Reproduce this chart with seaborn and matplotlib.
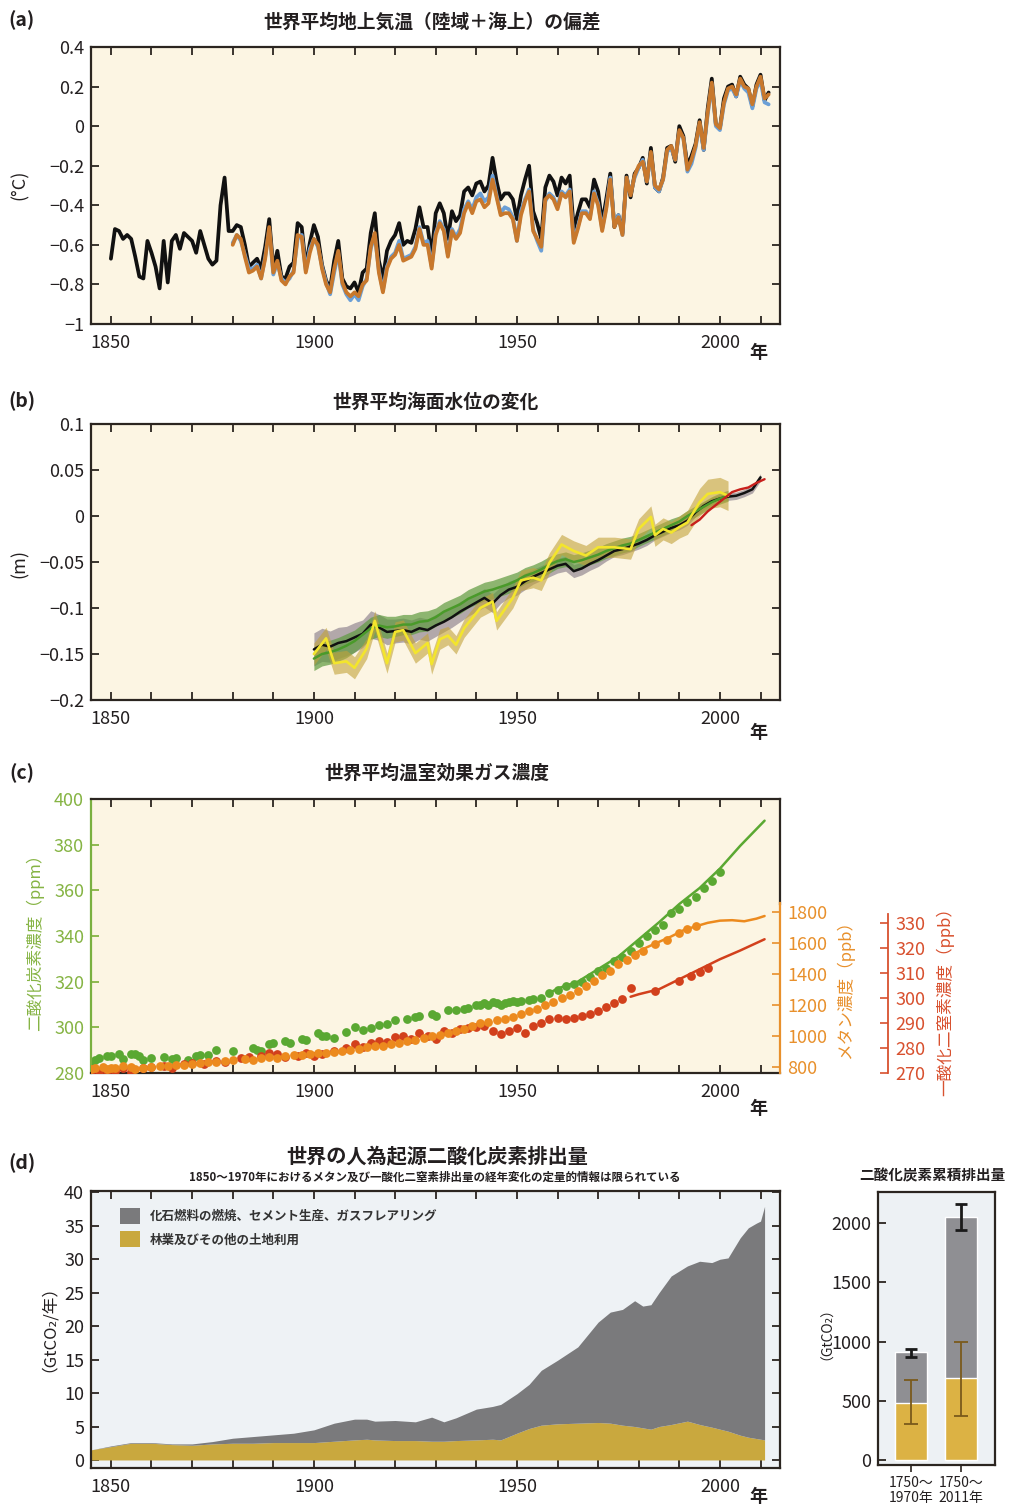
import numpy as np
import matplotlib
matplotlib.use("Agg")
import matplotlib.pyplot as plt
import seaborn as sns
from matplotlib.ticker import MultipleLocator, FuncFormatter, FixedLocator
from matplotlib.patches import Patch

sns.set_theme(style="ticks")
plt.rcParams["font.family"] = ["Noto Sans CJK JP", "DejaVu Sans"]
plt.rcParams["axes.unicode_minus"] = True

# ---------------- (a) global mean surface temperature anomaly ----------------
temp_black_years = list(range(1850, 2013))
temp_black = [
    -0.67, -0.52, -0.53, -0.57, -0.55, -0.57, -0.66, -0.76, -0.77, -0.58,
    -0.64, -0.71, -0.82, -0.58, -0.79, -0.58, -0.55, -0.62, -0.54, -0.56,
    -0.58, -0.64, -0.53, -0.60, -0.67, -0.70, -0.68, -0.40, -0.26, -0.53,
    -0.53, -0.50, -0.51, -0.60, -0.71, -0.69, -0.67, -0.72, -0.61, -0.47,
    -0.72, -0.63, -0.76, -0.77, -0.71, -0.69, -0.49, -0.51, -0.71, -0.59,
    -0.50, -0.56, -0.70, -0.78, -0.82, -0.68, -0.58, -0.77, -0.81, -0.82,
    -0.79, -0.84, -0.74, -0.72, -0.54, -0.44, -0.68, -0.77, -0.63, -0.58,
    -0.55, -0.49, -0.60, -0.58, -0.59, -0.52, -0.41, -0.51, -0.51, -0.65,
    -0.44, -0.39, -0.44, -0.57, -0.43, -0.48, -0.45, -0.33, -0.31, -0.35,
    -0.29, -0.28, -0.33, -0.30, -0.16, -0.28, -0.37, -0.34, -0.34, -0.37,
    -0.47, -0.35, -0.27, -0.20, -0.43, -0.49, -0.57, -0.31, -0.25, -0.28,
    -0.35, -0.26, -0.29, -0.25, -0.52, -0.44, -0.37, -0.37, -0.41, -0.27,
    -0.33, -0.49, -0.37, -0.24, -0.51, -0.45, -0.54, -0.25, -0.36, -0.24,
    -0.21, -0.16, -0.29, -0.11, -0.31, -0.33, -0.26, -0.11, -0.10, -0.18,
    0.00, -0.05, -0.20, -0.15, -0.09, 0.03, -0.12, 0.09, 0.24, 0.01,
    -0.01, 0.14, 0.20, 0.21, 0.15, 0.25, 0.21, 0.19, 0.10, 0.21,
    0.26, 0.13, 0.17]
temp_other_years = list(range(1880, 2013))
temp_orange = [
    -0.60, -0.55, -0.57, -0.66, -0.74, -0.73, -0.71, -0.77, -0.67, -0.51,
    -0.74, -0.68, -0.78, -0.80, -0.76, -0.74, -0.55, -0.56, -0.74, -0.64,
    -0.57, -0.60, -0.72, -0.80, -0.84, -0.72, -0.63, -0.79, -0.84, -0.86,
    -0.84, -0.86, -0.80, -0.78, -0.61, -0.54, -0.74, -0.84, -0.72, -0.67,
    -0.65, -0.60, -0.68, -0.67, -0.66, -0.62, -0.52, -0.60, -0.60, -0.72,
    -0.55, -0.49, -0.53, -0.66, -0.53, -0.57, -0.54, -0.44, -0.39, -0.44,
    -0.38, -0.37, -0.41, -0.39, -0.27, -0.36, -0.45, -0.44, -0.44, -0.47,
    -0.58, -0.45, -0.38, -0.33, -0.53, -0.57, -0.61, -0.37, -0.35, -0.37,
    -0.42, -0.34, -0.36, -0.33, -0.59, -0.52, -0.44, -0.44, -0.47, -0.34,
    -0.40, -0.53, -0.42, -0.27, -0.51, -0.46, -0.55, -0.26, -0.35, -0.25,
    -0.20, -0.18, -0.28, -0.13, -0.30, -0.32, -0.27, -0.12, -0.10, -0.17,
    -0.02, -0.06, -0.22, -0.17, -0.10, 0.02, -0.11, 0.07, 0.22, 0.01,
    -0.01, 0.12, 0.19, 0.20, 0.16, 0.24, 0.20, 0.19, 0.11, 0.20,
    0.25, 0.14, 0.16]
temp_blue = [
    -0.59, -0.55, -0.58, -0.65, -0.72, -0.72, -0.70, -0.77, -0.66, -0.52,
    -0.75, -0.69, -0.77, -0.79, -0.77, -0.73, -0.57, -0.55, -0.73, -0.62,
    -0.57, -0.61, -0.71, -0.79, -0.85, -0.74, -0.64, -0.80, -0.85, -0.88,
    -0.85, -0.88, -0.81, -0.77, -0.62, -0.55, -0.73, -0.83, -0.71, -0.66,
    -0.64, -0.58, -0.67, -0.66, -0.65, -0.61, -0.51, -0.59, -0.58, -0.71,
    -0.54, -0.48, -0.52, -0.65, -0.52, -0.56, -0.52, -0.42, -0.38, -0.42,
    -0.36, -0.34, -0.38, -0.36, -0.25, -0.35, -0.44, -0.41, -0.42, -0.46,
    -0.58, -0.43, -0.37, -0.32, -0.52, -0.58, -0.63, -0.38, -0.34, -0.36,
    -0.41, -0.33, -0.35, -0.32, -0.58, -0.51, -0.43, -0.43, -0.46, -0.33,
    -0.39, -0.52, -0.41, -0.26, -0.50, -0.45, -0.55, -0.26, -0.34, -0.26,
    -0.21, -0.17, -0.28, -0.14, -0.31, -0.33, -0.27, -0.13, -0.11, -0.17,
    -0.03, -0.06, -0.23, -0.19, -0.11, 0.01, -0.12, 0.06, 0.21, 0.00,
    -0.02, 0.11, 0.18, 0.19, 0.15, 0.23, 0.19, 0.17, 0.09, 0.19,
    0.23, 0.12, 0.11]

# ---------------- (b) global mean sea level change ----------------
sl_black_years = list(range(1900, 2011, 2))
sl_black = [
    -0.145, -0.140, -0.142, -0.138, -0.136, -0.132, -0.128, -0.118, -0.121, -0.126,
    -0.125, -0.124, -0.126, -0.122, -0.124, -0.119, -0.115, -0.110, -0.104, -0.099,
    -0.094, -0.089, -0.095, -0.086, -0.080, -0.077, -0.071, -0.066, -0.062, -0.058,
    -0.054, -0.052, -0.060, -0.057, -0.052, -0.048, -0.043, -0.038, -0.036, -0.033,
    -0.030, -0.026, -0.021, -0.017, -0.013, -0.010, -0.005, 0.004, 0.011, 0.016,
    0.019, 0.021, 0.022, 0.025, 0.029, 0.042]
sl_black_unc = [
    0.018, 0.018, 0.017, 0.017, 0.016, 0.016, 0.015, 0.015, 0.014, 0.014,
    0.013, 0.013, 0.013, 0.012, 0.012, 0.012, 0.011, 0.011, 0.011, 0.010,
    0.010, 0.010, 0.010, 0.009, 0.009, 0.009, 0.009, 0.008, 0.008, 0.008,
    0.008, 0.008, 0.007, 0.007, 0.007, 0.007, 0.006, 0.006, 0.006, 0.006,
    0.006, 0.006, 0.005, 0.005, 0.005, 0.005, 0.005, 0.005, 0.004, 0.004,
    0.004, 0.004, 0.004, 0.004, 0.004, 0.004]
sl_green_years = list(range(1900, 2003, 2))
sl_green = [
    -0.155, -0.150, -0.148, -0.145, -0.141, -0.136, -0.129, -0.122, -0.119, -0.121,
    -0.120, -0.118, -0.118, -0.115, -0.114, -0.110, -0.104, -0.100, -0.096, -0.090,
    -0.086, -0.082, -0.080, -0.077, -0.074, -0.070, -0.065, -0.062, -0.058, -0.053,
    -0.049, -0.047, -0.050, -0.048, -0.045, -0.042, -0.038, -0.035, -0.032, -0.030,
    -0.026, -0.022, -0.018, -0.014, -0.010, -0.006, 0.000, 0.005, 0.010, 0.015,
    0.019, 0.022]
sl_green_unc = [
    0.013, 0.013, 0.013, 0.013, 0.013, 0.012, 0.012, 0.012, 0.012, 0.012,
    0.011, 0.011, 0.011, 0.011, 0.011, 0.010, 0.010, 0.010, 0.010, 0.010,
    0.010, 0.010, 0.010, 0.010, 0.010, 0.009, 0.009, 0.009, 0.009, 0.009,
    0.008, 0.008, 0.008, 0.008, 0.008, 0.008, 0.008, 0.008, 0.008, 0.008,
    0.007, 0.007, 0.007, 0.007, 0.007, 0.006, 0.006, 0.006, 0.006, 0.006,
    0.006, 0.006]
sl_yellow_years = [1900, 1903, 1905, 1908, 1910, 1913, 1915, 1918, 1920, 1922,
                   1925, 1928, 1929, 1931, 1933, 1935, 1937, 1941, 1944, 1945,
                   1949, 1951, 1954, 1956, 1958, 1961, 1964, 1967, 1970, 1974,
                   1978, 1980, 1983, 1984, 1986, 1988, 1990, 1992, 1995, 1997,
                   2000, 2002]
sl_yellow = [-0.150, -0.133, -0.160, -0.158, -0.165, -0.144, -0.114, -0.160, -0.126, -0.124,
             -0.149, -0.138, -0.161, -0.134, -0.130, -0.140, -0.122, -0.100, -0.093, -0.114,
             -0.089, -0.070, -0.067, -0.070, -0.051, -0.031, -0.038, -0.043, -0.034, -0.034,
             -0.036, -0.014, -0.001, -0.021, -0.014, -0.018, -0.012, -0.007, 0.015, 0.024,
             0.026, 0.022]
sl_yellow_unc = [0.012, 0.012, 0.012, 0.012, 0.012, 0.011, 0.011, 0.011, 0.011, 0.011,
                 0.011, 0.011, 0.011, 0.011, 0.010, 0.010, 0.010, 0.010, 0.010, 0.010,
                 0.011, 0.011, 0.011, 0.011, 0.011, 0.011, 0.011, 0.011, 0.011, 0.011,
                 0.011, 0.011, 0.012, 0.012, 0.012, 0.012, 0.012, 0.013, 0.015, 0.016,
                 0.016, 0.016]
sl_red_years = [1993, 1995, 1997, 1999, 2001, 2003, 2005, 2007, 2009, 2011]
sl_red = [-0.010, -0.004, 0.005, 0.012, 0.019, 0.026, 0.029, 0.031, 0.036, 0.040]

# ---------------- (c) greenhouse gas concentrations ----------------
co2_dot_years = [1845, 1846, 1847, 1849, 1850, 1852, 1853, 1855, 1856, 1857,
                 1858, 1860, 1863, 1865, 1866, 1869, 1871, 1872, 1874, 1876,
                 1880, 1885, 1886, 1887, 1889, 1890, 1893, 1894, 1897, 1898,
                 1901, 1902, 1903, 1905, 1908, 1910, 1912, 1914, 1916, 1918,
                 1920, 1923, 1925, 1926, 1929, 1930, 1933, 1935, 1937, 1938,
                 1940, 1941, 1942, 1943, 1944, 1945, 1946, 1947, 1948, 1949,
                 1950, 1951, 1953, 1954, 1956, 1958, 1960, 1962, 1964, 1966,
                 1968, 1970, 1972, 1974, 1976, 1978, 1980, 1982, 1984, 1986,
                 1988, 1990, 1992, 1994, 1996, 1998, 2000]
co2_dot_vals = [284.5, 285.5, 286.5, 287.5, 287.5, 288.5, 286.0, 288.5, 288.5, 287.5,
                285.5, 286.5, 287.0, 286.0, 286.5, 285.5, 287.5, 288.0, 288.0, 290.0,
                289.5, 291.0, 290.0, 289.5, 292.5, 293.0, 294.0, 293.0, 295.0, 294.5,
                297.5, 296.0, 296.0, 295.5, 298.0, 300.0, 299.0, 299.5, 301.0, 301.5,
                303.0, 303.5, 304.5, 305.0, 306.0, 305.0, 307.5, 307.5, 308.0, 308.5,
                310.0, 310.0, 310.5, 310.0, 311.0, 310.5, 310.0, 310.5, 311.0, 311.5,
                311.0, 311.5, 312.0, 312.5, 313.0, 315.0, 316.5, 318.0, 319.0, 320.0,
                322.0, 324.5, 326.0, 329.0, 331.0, 333.5, 337.0, 340.0, 342.5, 345.0,
                350.0, 352.0, 355.0, 357.0, 361.0, 364.0, 368.0]
co2_line_years = [1958, 1960, 1965, 1970, 1975, 1980, 1985, 1990, 1995, 2000, 2005, 2011]
co2_line_vals = [315, 317, 320, 325.5, 331, 338.5, 346, 354, 361, 369.5, 379.5, 390.5]

ch4_dot_years = [1845, 1846, 1848, 1849, 1850, 1851, 1853, 1855, 1856, 1858,
                 1860, 1862, 1864, 1866, 1868, 1870, 1872, 1874, 1876, 1878,
                 1880, 1883, 1885, 1887, 1889, 1891, 1893, 1895, 1897, 1899,
                 1901, 1903, 1905, 1907, 1909, 1911, 1913, 1915, 1917, 1919,
                 1921, 1923, 1925, 1927, 1929, 1931, 1933, 1935, 1937, 1939,
                 1941, 1943, 1945, 1947, 1949, 1951, 1953, 1955, 1957, 1959,
                 1961, 1963, 1965, 1967, 1969, 1971, 1973, 1975, 1977, 1979,
                 1981, 1984, 1987, 1990, 1992, 1994]
ch4_dot_vals = [785, 792, 796, 784, 790, 794, 802, 796, 788, 790,
                800, 806, 804, 812, 808, 818, 822, 828, 832, 838,
                845, 850, 846, 856, 860, 858, 868, 872, 876, 880,
                885, 890, 892, 900, 910, 915, 925, 930, 936, 945,
                955, 965, 975, 985, 995, 1005, 1018, 1030, 1045, 1060,
                1080, 1090, 1100, 1110, 1120, 1140, 1160, 1175, 1195, 1215,
                1240, 1265, 1290, 1320, 1350, 1390, 1420, 1460, 1490, 1520,
                1545, 1590, 1620, 1660, 1690, 1705]
ch4_line_years = [1979, 1982, 1985, 1988, 1991, 1994, 1997, 2000, 2003, 2006, 2009, 2011]
ch4_line_vals = [1530, 1570, 1605, 1640, 1680, 1705, 1728, 1742, 1745, 1738, 1755, 1772]

n2o_dot_years = [1845, 1847, 1849, 1851, 1853, 1855, 1858, 1860, 1863, 1865,
                 1868, 1870, 1873, 1876, 1878, 1882, 1884, 1887, 1889, 1891,
                 1893, 1896, 1898, 1900, 1902, 1905, 1908, 1910, 1912, 1914,
                 1916, 1918, 1920, 1922, 1924, 1926, 1928, 1930, 1932, 1934,
                 1936, 1938, 1940, 1942, 1944, 1946, 1948, 1950, 1952, 1954,
                 1956, 1958, 1960, 1962, 1964, 1966, 1968, 1970, 1972, 1974,
                 1976, 1978, 1984, 1990, 1993, 1995, 1997]
n2o_dot_vals = [270.5, 271.0, 270.5, 271.0, 272.0, 270.5, 272.0, 272.5, 273.0, 272.0,
                273.5, 274.0, 273.5, 275.0, 274.5, 276.0, 276.5, 277.0, 278.0, 277.5,
                276.5, 277.0, 278.0, 277.0, 277.5, 279.0, 280.0, 281.5, 280.5, 282.0,
                283.0, 282.5, 284.5, 285.0, 283.5, 286.0, 285.0, 283.5, 287.0, 286.0,
                287.5, 288.0, 288.5, 289.0, 287.0, 285.5, 287.0, 288.0, 286.0, 289.0,
                290.0, 291.5, 292.0, 291.5, 292.0, 293.0, 293.5, 295.0, 296.5, 298.0,
                299.5, 304.0, 303.0, 307.0, 309.0, 310.5, 312.0]
n2o_line_years = [1978, 1980, 1985, 1990, 1995, 2000, 2005, 2011]
n2o_line_vals = [300.5, 301.5, 303.5, 307.5, 311.5, 315.5, 319.0, 323.5]

# ---------------- (d) anthropogenic CO2 emissions ----------------
em_years = [1845, 1850, 1855, 1860, 1865, 1870, 1875, 1880, 1885, 1890,
            1895, 1900, 1905, 1910, 1913, 1915, 1920, 1925, 1929, 1932,
            1935, 1940, 1944, 1946, 1950, 1953, 1956, 1960, 1965, 1970,
            1973, 1976, 1979, 1981, 1983, 1985, 1988, 1992, 1995, 1998,
            2000, 2002, 2005, 2007, 2009, 2010, 2011]
em_land = [1.5, 2.0, 2.5, 2.5, 2.3, 2.2, 2.4, 2.5, 2.5, 2.6,
           2.6, 2.6, 2.8, 3.0, 3.1, 3.0, 2.9, 2.9, 2.8, 2.8,
           2.9, 3.0, 3.1, 3.0, 4.0, 4.7, 5.2, 5.4, 5.5, 5.6,
           5.5, 5.2, 5.0, 4.8, 4.6, 5.0, 5.3, 5.8, 5.3, 4.9,
           4.6, 4.3, 3.7, 3.4, 3.2, 3.1, 3.0]
em_fossil = [0.0, 0.1, 0.1, 0.1, 0.1, 0.2, 0.35, 0.75, 1.0, 1.15,
             1.4, 1.9, 2.7, 3.1, 3.0, 2.8, 3.0, 2.8, 3.6, 2.9,
             3.4, 4.6, 4.9, 5.3, 5.9, 6.6, 8.2, 9.5, 11.4, 15.0,
             16.6, 17.3, 18.8, 18.2, 18.6, 20.0, 22.2, 23.2, 24.4, 24.6,
             25.4, 25.9, 29.5, 31.3, 32.2, 32.6, 34.9]

cum_labels = ["1750～\n1970年", "1750～\n2011年"]
cum_total = [910, 2055]
cum_total_lo = [872, 1941]
cum_total_hi = [942, 2166]
cum_land = [480, 690]
cum_land_lo = [301, 371]
cum_land_hi = [675, 993]

# ---------------- styling ----------------
W, H = 1012, 1510
SPINE = "#2b2520"
TXT = "#231f20"
CREAM = "#fcf5e3"
BLUEBG = "#eef2f5"
GRAY = "#7a7a7c"
GOLD = "#c9a83e"
GREEN_TXT = "#86b444"
CO2_C = "#5aa832"
CH4_C = "#ec8a1e"
N2O_C = "#d2401c"


def box(l, t, r, b):
    return [l / W, 1 - b / H, (r - l) / W, (b - t) / H]


def ftxt(x, y, s, **kw):
    kw.setdefault("ha", "center")
    kw.setdefault("va", "center")
    kw.setdefault("color", TXT)
    fig.text(x / W, 1 - y / H, s, **kw)


def numfmt(v, p):
    return ("%g" % round(v, 6)).replace("-", "\u2212")


def style_time(ax, face, right_ticks=True):
    ax.set_facecolor(face)
    ax.set_xlim(1845.1, 2014.8)
    ax.xaxis.set_major_locator(MultipleLocator(50))
    ax.xaxis.set_minor_locator(MultipleLocator(10))
    ax.tick_params(axis="x", which="both", direction="in", top=True, bottom=True,
                   length=6, width=1.3, color=SPINE, labelsize=13, pad=7, labelcolor=TXT)
    ax.tick_params(axis="y", which="both", direction="in", left=True, right=right_ticks,
                   length=6, width=1.3, color=SPINE, labelsize=13, pad=5, labelcolor=TXT)
    ax.yaxis.set_major_formatter(FuncFormatter(numfmt))
    for s in ax.spines.values():
        s.set_color(SPINE)
        s.set_linewidth(1.6)
    ax.set_xlabel("")
    ax.set_ylabel("")
    ax.grid(False)


fig = plt.figure(figsize=(W / 100, H / 100), dpi=100, facecolor="white")

# ---- (a)
ax_a = fig.add_axes(box(91, 47, 780, 324))
sns.lineplot(x=temp_black_years, y=temp_black, ax=ax_a, color="#111111", linewidth=2.7)
sns.lineplot(x=temp_other_years, y=temp_blue, ax=ax_a, color="#6b9fd6", linewidth=2.7)
sns.lineplot(x=temp_other_years, y=temp_orange, ax=ax_a, color="#c8782c", linewidth=2.7)
style_time(ax_a, CREAM)
ax_a.set_ylim(-1.0, 0.4)
ax_a.yaxis.set_major_locator(MultipleLocator(0.2))

# ---- (b)
ax_b = fig.add_axes(box(91, 424, 780, 700))
bk = np.array(sl_black); bku = np.array(sl_black_unc)
gr = np.array(sl_green); gru = np.array(sl_green_unc)
ye = np.array(sl_yellow); yeu = np.array(sl_yellow_unc)
ax_b.fill_between(sl_black_years, bk - bku, bk + bku, color="#9a8f98", alpha=0.75, linewidth=0)
ax_b.fill_between(sl_green_years, gr - gru, gr + gru, color="#5e9a40", alpha=0.7, linewidth=0)
ax_b.fill_between(sl_yellow_years, ye - yeu, ye + yeu, color="#c2a23a", alpha=0.6, linewidth=0)
sns.lineplot(x=sl_black_years, y=sl_black, ax=ax_b, color="#111111", linewidth=1.8)
sns.lineplot(x=sl_green_years, y=sl_green, ax=ax_b, color="#4a9a2a", linewidth=1.8)
sns.lineplot(x=sl_yellow_years, y=sl_yellow, ax=ax_b, color="#f3e52c", linewidth=1.9)
sns.lineplot(x=sl_red_years, y=sl_red, ax=ax_b, color="#c8201c", linewidth=1.7)
style_time(ax_b, CREAM)
ax_b.set_ylim(-0.2, 0.1)
ax_b.yaxis.set_major_locator(MultipleLocator(0.05))

# ---- (c)
ax_c = fig.add_axes(box(91, 799, 780, 1073))
sns.scatterplot(x=co2_dot_years, y=co2_dot_vals, ax=ax_c, color=CO2_C, s=40, linewidth=0)
sns.lineplot(x=co2_line_years, y=co2_line_vals, ax=ax_c, color=CO2_C, linewidth=1.8)
style_time(ax_c, CREAM, right_ticks=False)
ax_c.set_ylim(280, 400)
ax_c.yaxis.set_major_locator(MultipleLocator(20))
ax_c.tick_params(axis="y", colors=GREEN_TXT, labelcolor=GREEN_TXT)
ax_c.spines["left"].set_color("#7ab040")
ax_c.spines["right"].set_bounds(354, 400)

ax_n2o = ax_c.twinx()
sns.scatterplot(x=n2o_dot_years, y=n2o_dot_vals, ax=ax_n2o, color=N2O_C, s=40, linewidth=0)
sns.lineplot(x=n2o_line_years, y=n2o_line_vals, ax=ax_n2o, color=N2O_C, linewidth=1.8)
ax_n2o.set_ylim(270, 379.6)
ax_n2o.set_ylabel("")
for k in ["left", "top", "bottom"]:
    ax_n2o.spines[k].set_visible(False)
ax_n2o.spines["right"].set_position(("outward", 78))
ax_n2o.spines["right"].set_bounds(270, 333.5)
ax_n2o.spines["right"].set_color("#d8502e")
ax_n2o.spines["right"].set_linewidth(1.3)
ax_n2o.yaxis.set_major_locator(FixedLocator([270, 280, 290, 300, 310, 320, 330]))
ax_n2o.tick_params(axis="y", direction="in", length=6, width=1.2, color="#d8502e",
                   labelcolor="#d8502e", labelsize=13, pad=5)
ax_n2o.grid(False)

ax_ch4 = ax_c.twinx()
sns.scatterplot(x=ch4_dot_years, y=ch4_dot_vals, ax=ax_ch4, color=CH4_C, s=40, linewidth=0)
sns.lineplot(x=ch4_line_years, y=ch4_line_vals, ax=ax_ch4, color=CH4_C, linewidth=1.8)
ax_ch4.set_ylim(759, 2527)
ax_ch4.set_ylabel("")
for k in ["left", "top", "bottom"]:
    ax_ch4.spines[k].set_visible(False)
ax_ch4.spines["right"].set_bounds(759, 1855)
ax_ch4.spines["right"].set_color("#e8902c")
ax_ch4.spines["right"].set_linewidth(1.6)
ax_ch4.yaxis.set_major_locator(FixedLocator([800, 1000, 1200, 1400, 1600, 1800]))
ax_ch4.tick_params(axis="y", direction="in", length=6, width=1.2, color="#e8902c",
                   labelcolor="#e8902c", labelsize=13, pad=5)
ax_ch4.grid(False)
ax_c.set_xlim(1845.1, 2014.8)

# ---- (d)
ax_d = fig.add_axes(box(91, 1191, 780, 1468))
ax_d.stackplot(em_years, em_land, em_fossil, colors=[GOLD, GRAY], linewidth=0)
style_time(ax_d, BLUEBG)
ax_d.set_ylim(-1.2, 40.2)
ax_d.yaxis.set_major_locator(MultipleLocator(5))
ax_d.legend(handles=[Patch(facecolor=GRAY, edgecolor="none",
                           label="化石燃料の燃焼、セメント生産、ガスフレアリング"),
                     Patch(facecolor=GOLD, edgecolor="none",
                           label="林業及びその他の土地利用")],
            loc="upper left", bbox_to_anchor=(0.042, 0.94), frameon=False,
            borderaxespad=0, borderpad=0, handlelength=1.6, handleheight=1.6,
            handletextpad=0.8, labelspacing=0.6,
            prop={"size": 9, "weight": "bold"}, labelcolor="#333333")

# ---- cumulative bars
ax_bar = fig.add_axes(box(878, 1192, 995, 1465))
ax_bar.set_facecolor("#edf1f4")
sns.barplot(x=cum_labels, y=cum_total, ax=ax_bar, color="#8f8f93", saturation=1,
            width=0.64, errorbar=None)
sns.barplot(x=cum_labels, y=cum_land, ax=ax_bar, color="#dcb244", saturation=1,
            width=0.64, errorbar=None)
pos = np.arange(len(cum_labels))
tot = np.array(cum_total); lnd = np.array(cum_land)
ax_bar.errorbar(pos, tot, yerr=[tot - np.array(cum_total_lo), np.array(cum_total_hi) - tot],
                fmt="none", ecolor="#1a1a1a", elinewidth=2.0, capsize=4, capthick=2.0, zorder=5)
ax_bar.errorbar(pos, lnd, yerr=[lnd - np.array(cum_land_lo), np.array(cum_land_hi) - lnd],
                fmt="none", ecolor="#7a5a1c", elinewidth=1.3, capsize=5, capthick=1.3, zorder=5)
ax_bar.set_xlim(-0.66, 1.68)
ax_bar.set_ylim(-42, 2264)
ax_bar.yaxis.set_major_locator(FixedLocator([0, 500, 1000, 1500, 2000]))
ax_bar.tick_params(axis="y", direction="in", left=True, right=False, length=6, width=1.3,
                   color=SPINE, labelsize=13, pad=5, labelcolor=TXT)
ax_bar.tick_params(axis="x", direction="out", bottom=True, length=5, width=1.2,
                   color=SPINE, labelsize=10, pad=3, labelcolor=TXT)
for lab in ax_bar.get_xticklabels():
    lab.set_linespacing(1.05)
for s in ax_bar.spines.values():
    s.set_color(SPINE)
    s.set_linewidth(1.6)
ax_bar.set_xlabel("")
ax_bar.set_ylabel("")
ax_bar.grid(False)

# ---- texts
for (x, y, s) in [(22, 20, "(a)"), (22, 401, "(b)"), (22, 773, "(c)"), (22, 1163, "(d)")]:
    ftxt(x, y, s, fontsize=14, weight="bold")
ftxt(432, 22, "世界平均地上気温（陸域＋海上）の偏差", fontsize=13.5, weight="bold")
ftxt(435, 402, "世界平均海面水位の変化", fontsize=13.5, weight="bold")
ftxt(437, 773, "世界平均温室効果ガス濃度", fontsize=13.5, weight="bold")
ftxt(437, 1157, "世界の人為起源二酸化炭素排出量", fontsize=14.5, weight="bold")
ftxt(435, 1177, "1850～1970年におけるメタン及び一酸化二窒素排出量の経年変化の定量的情報は限られている",
     fontsize=8.3, weight="bold")
ftxt(932, 1175, "二酸化炭素累積排出量", fontsize=10.5, weight="bold")
for y in [352, 732, 1108, 1497]:
    ftxt(758, y, "年", fontsize=13, weight="bold")
ftxt(20, 185, "(°C)", fontsize=13, rotation=90)
ftxt(20, 563, "(m)", fontsize=13, rotation=90)
ftxt(35, 938, "二酸化炭素濃度（ppm）", fontsize=12, rotation=90, color=GREEN_TXT)
ftxt(845, 985, "メタン濃度（ppb）", fontsize=12, rotation=90, color="#e8902c")
ftxt(945, 997, "一酸化二窒素濃度（ppb）", fontsize=12, rotation=90, color="#d8502e")
ftxt(40, 1320, "（GtCO₂/年）", fontsize=12, rotation=90)
ftxt(820, 1327, "（GtCO₂）", fontsize=10, rotation=90)

fig.savefig("out.png", dpi=100, facecolor="white")
